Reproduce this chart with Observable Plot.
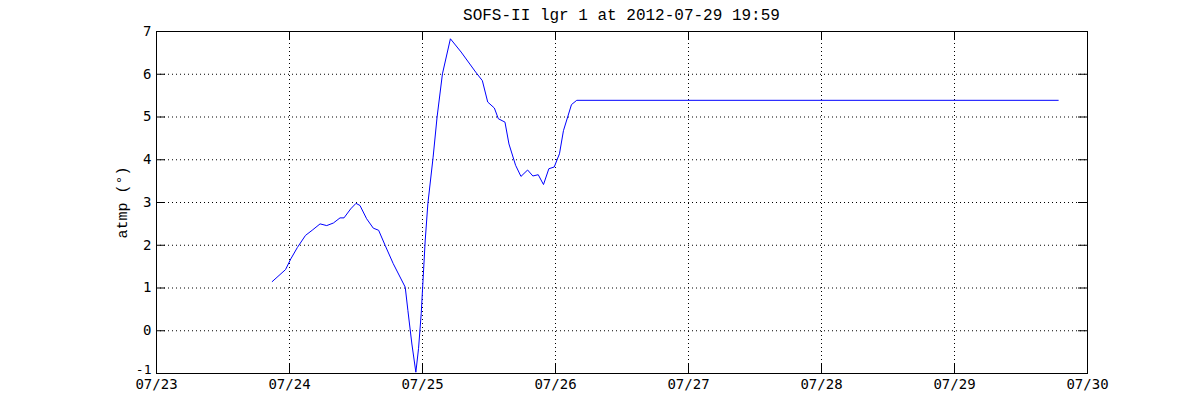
<!DOCTYPE html>
<html>
<head>
<meta charset="utf-8">
<script src="https://cdn.jsdelivr.net/npm/d3@7"></script>
<script src="https://cdn.jsdelivr.net/npm/@observablehq/plot@0.6"></script>
<style>
  html, body { margin: 0; padding: 0; background: #fff; }
  #wrap { width: 1200px; height: 420px; position: relative; }
  #title { box-sizing: border-box; height: 24px; margin-left: 156px; width: 931px; padding-top: 8px;
    font: 16px "Liberation Mono", monospace; line-height: 16px; text-align: center; color: #000; white-space: pre; }
  svg { display: block; }
</style>
</head>
<body>
<div id="wrap">
  <div id="title"></div>
  <div id="chart"></div>
</div>
<script>
const titleText = "SOFS-II lgr 1 at 2012-07-29 19:59";
const yLabel = "atmp (°)";

// time stamps (UTC) and air temperature readings
const times = [
  "2012-07-23T20:53", "2012-07-23T23:17", "2012-07-24T00:14", "2012-07-24T01:26",
  "2012-07-24T02:53", "2012-07-24T04:05", "2012-07-24T05:31", "2012-07-24T06:43",
  "2012-07-24T07:55", "2012-07-24T09:07", "2012-07-24T09:50", "2012-07-24T11:02",
  "2012-07-24T12:00", "2012-07-24T12:43", "2012-07-24T13:55", "2012-07-24T15:07",
  "2012-07-24T16:05", "2012-07-24T17:17", "2012-07-24T18:43", "2012-07-24T20:53",
  "2012-07-24T21:22", "2012-07-24T22:05", "2012-07-24T22:48", "2012-07-24T23:17",
  "2012-07-24T23:46", "2012-07-25T00:29", "2012-07-25T00:58", "2012-07-25T01:55",
  "2012-07-25T02:38", "2012-07-25T03:36", "2012-07-25T05:02", "2012-07-25T06:58",
  "2012-07-25T09:36", "2012-07-25T10:48", "2012-07-25T11:46", "2012-07-25T12:58",
  "2012-07-25T13:41", "2012-07-25T14:53", "2012-07-25T15:36", "2012-07-25T16:48",
  "2012-07-25T17:46", "2012-07-25T18:58", "2012-07-25T19:55", "2012-07-25T20:53",
  "2012-07-25T21:50", "2012-07-25T22:48", "2012-07-25T23:46", "2012-07-26T00:43",
  "2012-07-26T01:26", "2012-07-26T02:53", "2012-07-26T03:50", "2012-07-29T18:43"
];
const atmp = [
  1.15, 1.43, 1.68, 1.95,
  2.23, 2.35, 2.50, 2.46,
  2.52, 2.64, 2.64, 2.85,
  2.98, 2.93, 2.62, 2.40,
  2.35, 1.99, 1.57, 1.02,
  0.47, -0.31, -0.97, -0.42,
  0.40, 2.10, 2.97, 4.06,
  5.00, 6.01, 6.83, 6.52,
  6.05, 5.85, 5.35, 5.21,
  4.96, 4.88, 4.37, 3.87,
  3.61, 3.76, 3.62, 3.65,
  3.42, 3.79, 3.83, 4.14,
  4.68, 5.29, 5.39, 5.39
];

const xTickLabels = ["07/23", "07/24", "07/25", "07/26", "07/27", "07/28", "07/29", "07/30"];
const yTicks = [-1, 0, 1, 2, 3, 4, 5, 6, 7];

const parse = d3.utcParse("%Y-%m-%dT%H:%M");
const data = times.map((t, i) => ({date: parse(t), value: atmp[i]}));
const xTicks = xTickLabels.map(s => d3.utcParse("%Y/%m/%d")("2012/" + s));
const xInner = xTicks.slice(1, -1);
const yInner = yTicks.slice(1, -1);

document.getElementById("title").textContent = titleText;

const W = 1200, H = 396;
const mT = 7, mB = 47, mL = 156, mR = 113;
const innerW = W - mL - mR, innerH = H - mT - mB;
const tickLen = 9;
const dash = "1,3";

const chart = Plot.plot({
  width: W,
  height: H,
  marginTop: mT,
  marginBottom: mB,
  marginLeft: mL,
  marginRight: mR,
  style: {fontFamily: "'DejaVu Sans Mono', monospace", fontSize: "14px", color: "#000", background: "#fff"},
  x: {type: "utc", domain: [xTicks[0], xTicks[xTicks.length - 1]]},
  y: {domain: [yTicks[0], yTicks[yTicks.length - 1]]},
  marks: [
    Plot.gridX(xInner, {stroke: "#000", strokeOpacity: 1, strokeDasharray: dash}),
    Plot.gridY(yInner, {stroke: "#000", strokeOpacity: 1, strokeDasharray: dash}),
    Plot.tickX(xTicks, {x: d => d, stroke: "#000", insetTop: innerH - tickLen}),
    Plot.tickX(xTicks, {x: d => d, stroke: "#000", insetBottom: innerH - tickLen}),
    Plot.tickY(yTicks, {y: d => d, stroke: "#000", insetRight: innerW - tickLen}),
    Plot.tickY(yTicks, {y: d => d, stroke: "#000", insetLeft: innerW - tickLen}),
    Plot.axisX({ticks: xTicks, tickFormat: (d, i) => xTickLabels[i], tickSize: 0, tickPadding: 6, label: null}),
    Plot.axisY({ticks: yTicks.slice(1), tickSize: 0, tickPadding: 5, label: null, tickFormat: d => String(d)}),
    Plot.axisY({ticks: yTicks.slice(0, 1), tickSize: 0, tickPadding: 5, label: null, dy: -4, fontSize: 13, tickFormat: d => String(d)}),
    Plot.text([yLabel], {text: d => d, frameAnchor: "left", rotate: -90, dx: -34, textAnchor: "middle", lineAnchor: "middle",
      fontFamily: "'Liberation Mono', monospace", fontSize: 15, fill: "#000"}),
    Plot.frame({stroke: "#000"}),
    Plot.line(data, {x: "date", y: "value", stroke: "#0000ff", strokeWidth: 1})
  ]
});
document.getElementById("chart").appendChild(chart);
</script>
</body>
</html>
